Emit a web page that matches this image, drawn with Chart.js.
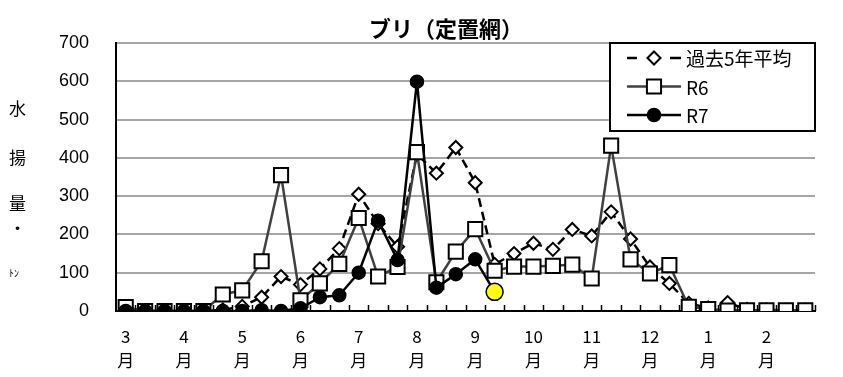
<!DOCTYPE html>
<html>
<head>
<meta charset="utf-8">
<script src="https://cdn.jsdelivr.net/npm/chart.js@4.4.1/dist/chart.umd.min.js"></script>
<style>
  body { margin: 0; background: #fff; }
  #wrap { position: relative; width: 843px; height: 377px; font-family: "Noto Sans CJK JP", sans-serif; }
  #title { position: absolute; left: 0; width: 892px; top: 12px; text-align: center; font-size: 22px; font-weight: bold; line-height: 30px; }
  .yl { position: absolute; left: 9px; font-size: 17px; line-height: 20px; }
</style>
</head>
<body>
<div id="wrap">
  <canvas id="chartcontainer" width="843" height="377"></canvas>
  <div id="title">ブリ（定置網）</div>
  <div class="yl" style="top:98px">水</div>
  <div class="yl" style="top:147px">揚</div>
  <div class="yl" style="top:193px">量</div>
  <div class="yl" style="top:218px">・</div>
  <div class="yl" style="top:263px;font-size:10px;left:9px">ﾄﾝ</div>
</div>
<script>
// 旬別（上・中・下旬）の水揚量
var months = ['3', '4', '5', '6', '7', '8', '9', '10', '11', '12', '1', '2'];
var seriesNames = ['過去5年平均', 'R6', 'R7'];
var avg5 = [0, 0, 0, 0, 0, 3, 12, 36, 90, 69, 110, 163, 305, 228, 168, 410, 360, 427,
            335, 122, 150, 177, 161, 213, 196, 259, 188, 115, 72, 20, 8, 22, 4, 3, 2, 2];
var r6 = [10, 0, 0, 0, 0, 43, 54, 130, 355, 28, 72, 123, 243, 90, 115, 415, 75, 155,
          214, 105, 116, 116, 118, 121, 85, 432, 135, 98, 120, 11, 5, 1, 2, 2, 2, 2];
var r7 = [0, 0, 0, 0, 0, 0, 0, 2, 0, 7, 36, 41, 100, 236, 133, 599, 61, 96,
          135, 50, null, null, null, null, null, null, null, null, null, null, null, null, null, null, null, null];
var yTicks = [0, 100, 200, 300, 400, 500, 600, 700];

var FONT = '"Noto Sans CJK JP", sans-serif';

var labels = [];
for (var m = 0; m < months.length; m++) {
    for (var j = 0; j < 3; j++) {
        labels.push(j == 0 ? [months[m], '月'] : '');
    }
}

// R7の最新値だけ黄色で大きく
var lastR7 = 0;
for (var i = 0; i < r7.length; i++) if (r7[i] != null) lastR7 = i;
var r7Fill = r7.map(function(v, i) { return i == lastR7 ? '#ffff00' : '#000'; });
var r7Radius = r7.map(function(v, i) { return i == lastR7 ? 8.5 : 6.5; });

var innerTicks = { // 目盛りを内側に
    id: 'innerTicks',
    afterDatasetsDraw: function(chart) {
        var x = chart.scales.x, ctx = chart.ctx;
        var half = (x.getPixelForValue(1) - x.getPixelForValue(0)) / 2;
        ctx.save();
        ctx.strokeStyle = '#000';
        ctx.lineWidth = 1.5;
        ctx.beginPath();
        for (var i = 1; i <= labels.length; i++) {
            var px = Math.round(x.getPixelForValue(i) - half) + 0.5;
            ctx.moveTo(px, x.top);
            ctx.lineTo(px, x.top - 6);
        }
        ctx.stroke();
        ctx.restore();
    }
};

var boxLegend = {
    id: 'boxLegend',
    afterDraw: function(chart) {
        var ctx = chart.ctx, a = chart.chartArea;
        var left = a.right - 205, top = a.top;
        ctx.save();
        ctx.fillStyle = '#fff';
        ctx.fillRect(left, top, 205, 88);
        ctx.strokeStyle = '#000';
        ctx.lineWidth = 2;
        ctx.strokeRect(left, top, 205, 88);
        var order = [2, 1, 0]; // datasets are stored R7, R6, avg
        for (var k = 0; k < 3; k++) {
            var ds = chart.data.datasets[order[k]];
            var y = top + 15 + k * 28.5;
            var x0 = left + 17, x1 = left + 71, xm = left + 44;
            ctx.strokeStyle = ds.borderColor;
            ctx.lineWidth = ds.borderWidth;
            ctx.beginPath();
            if (ds.borderDash) {
                ctx.moveTo(x0, y); ctx.lineTo(x0 + 10, y);
                ctx.moveTo(x1 - 11, y); ctx.lineTo(x1, y);
            } else {
                ctx.moveTo(x0, y); ctx.lineTo(x1, y);
            }
            ctx.stroke();
            ctx.fillStyle = ds.legendFill;
            ctx.strokeStyle = '#000';
            ctx.lineWidth = ds.pointBorderWidth;
            Chart.helpers.drawPoint(ctx, { pointStyle: ds.pointStyle, radius: ds.legendRadius, borderWidth: ds.pointBorderWidth }, xm, y);
            ctx.fillStyle = '#000';
            ctx.font = '19px ' + FONT;
            ctx.textBaseline = 'middle';
            ctx.textAlign = 'left';
            ctx.fillText(ds.label, left + 76, y + 1);
        }
        ctx.restore();
    }
};

var ctx = document.getElementById('chartcontainer').getContext('2d');
var chart = new Chart(ctx, {
    type: 'line',
    data: {
        labels: labels,
        datasets: [{
            label: seriesNames[2],
            data: r7,
            order: 1,
            borderColor: '#000',
            borderWidth: 2.5,
            borderJoinStyle: 'round',
            pointStyle: 'circle',
            pointRadius: r7Radius,
            pointBackgroundColor: r7Fill,
            pointBorderColor: '#000',
            pointBorderWidth: 1.5,
            legendFill: '#000',
            legendRadius: 6.5,
            tension: 0
        }, {
            label: seriesNames[1],
            data: r6,
            order: 2,
            borderColor: '#404040',
            borderWidth: 2.5,
            borderJoinStyle: 'round',
            pointStyle: 'rect',
            pointRadius: 10,
            pointBackgroundColor: '#fff',
            pointBorderColor: '#000',
            pointBorderWidth: 2,
            legendFill: '#fff',
            legendRadius: 10,
            tension: 0
        }, {
            label: seriesNames[0],
            data: avg5,
            order: 3,
            borderColor: '#000',
            borderWidth: 2.5,
            borderDash: [9, 5],
            borderJoinStyle: 'round',
            pointStyle: 'rectRot',
            pointRadius: 6.5,
            pointBackgroundColor: '#fff',
            pointBorderColor: '#000',
            pointBorderWidth: 2,
            legendFill: '#fff',
            legendRadius: 6.5,
            tension: 0
        }]
    },
    options: {
        responsive: false,
        animation: false,
        devicePixelRatio: 1,
        layout: { padding: { top: 43, right: 28, left: 0, bottom: 0 } },
        plugins: {
            legend: { display: false },
            title: { display: false },
            tooltip: { enabled: false }
        },
        scales: {
            x: {
                offset: true,
                grid: { display: false, drawTicks: false },
                border: { display: true, color: '#000', width: 2 },
                ticks: {
                    autoSkip: false,
                    maxRotation: 0,
                    padding: 13,
                    color: '#000',
                    font: { family: FONT, size: 17, lineHeight: 1.45 }
                },
                afterFit: function(s) { s.height = 66; }
            },
            y: {
                min: yTicks[0],
                max: yTicks[yTicks.length - 1],
                afterBuildTicks: function(s) { s.ticks = yTicks.map(function(v) { return { value: v }; }); },
                grid: {
                    drawTicks: false,
                    lineWidth: 2,
                    color: function(c) { return c.tick && c.tick.value == 0 ? 'rgba(0,0,0,0)' : '#a6a6a6'; }
                },
                border: { color: '#000', width: 2 },
                ticks: {
                    padding: 27,
                    color: '#000',
                    font: { family: '"Liberation Sans", sans-serif', size: 18 }
                },
                afterFit: function(s) { s.width = 116; }
            }
        }
    },
    plugins: [innerTicks, boxLegend]
});
</script>
</body>
</html>
